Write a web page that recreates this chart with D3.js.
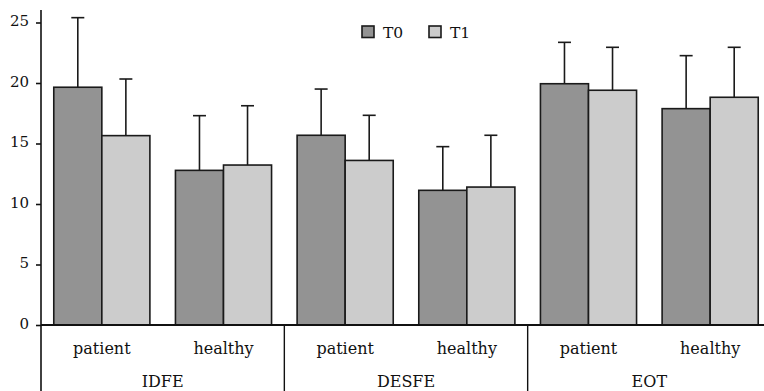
<!DOCTYPE html>
<html>
<head>
<meta charset="utf-8">
<script src="https://cdn.jsdelivr.net/npm/d3@7"></script>
<style>
  body { margin: 0; background: #fff; }
</style>
</head>
<body>
<svg id="chart" width="764" height="391"></svg>
<script>
// data
const groups = ["IDFE", "DESFE", "EOT"];
const subjects = ["patient", "healthy"];
const series = ["T0", "T1"];
const colors = ["#939393", "#cccccc"];

// means, in order IDFE patient/healthy, DESFE..., EOT...
const t0Mean = [19.65, 12.78, 15.68, 11.13, 19.94, 17.88];
const t1Mean = [15.65, 13.22, 13.6, 11.4, 19.4, 18.82];
// upper end of the error bar
const t0Upper = [25.4, 17.3, 19.5, 14.74, 23.36, 22.26];
const t1Upper = [20.33, 18.12, 17.33, 15.68, 22.95, 22.95];
const yTicks = [0, 5, 10, 15, 20, 25];

const serif = "DejaVu Serif";
const svg = d3.select("#chart");
const plotLeft = 41, plotRight = 771, plotTop = 10, base = 325;

let cells = [];
groups.forEach((g, gi) => {
    subjects.forEach((s, si) => {
        cells.push({ id: g + "|" + s, group: g, subject: s, i: gi * 2 + si });
    });
});

const x = d3.scaleBand()
    .domain(cells.map(d => d.id))
    .range([plotLeft, plotRight])
    .paddingInner(0.21)
    .paddingOuter(0.105);

const xs = d3.scaleBand()
    .domain(series)
    .range([0, x.bandwidth()]);

const y = d3.scaleLinear().domain([0, 25]).range([base, 22.5]);

let bars = [];
cells.forEach(c => {
    bars.push({ cell: c, s: "T0", v: t0Mean[c.i], up: t0Upper[c.i], fill: colors[0] });
    bars.push({ cell: c, s: "T1", v: t1Mean[c.i], up: t1Upper[c.i], fill: colors[1] });
});

// error bars first so the bar outline sits on top
let err = svg.append("g").attr("stroke", "#1a1a1a").attr("stroke-width", 1.6);
bars.forEach(b => {
    let cx = x(b.cell.id) + xs(b.s) + xs.bandwidth() / 2;
    err.append("line")
        .attr("x1", cx).attr("x2", cx)
        .attr("y1", y(b.v)).attr("y2", y(b.up));
    err.append("line")
        .attr("x1", cx - 6.5).attr("x2", cx + 6.5)
        .attr("y1", y(b.up)).attr("y2", y(b.up));
});

svg.append("g")
    .selectAll("rect")
    .data(bars)
    .enter()
    .append("rect")
    .attr("x", d => x(d.cell.id) + xs(d.s))
    .attr("y", d => y(d.v))
    .attr("width", xs.bandwidth())
    .attr("height", d => base - y(d.v))
    .attr("fill", d => d.fill)
    .attr("stroke", "#1a1a1a")
    .attr("stroke-width", 1.6);

// y axis
let yAxis = svg.append("g")
    .attr("transform", `translate(${plotLeft},0)`)
    .call(d3.axisLeft(y).tickValues(yTicks).tickSize(5).tickPadding(7));
yAxis.attr("font-family", serif);
yAxis.select(".domain").remove();
yAxis.selectAll(".tick line").attr("stroke", "#111").attr("stroke-width", 1.6);
yAxis.selectAll("text")
    .attr("font-family", serif)
    .attr("font-size", 15)
    .attr("dy", "0.22em")
    .attr("fill", "#111");

svg.append("line")
    .attr("x1", plotLeft).attr("x2", plotLeft)
    .attr("y1", plotTop).attr("y2", 391)
    .attr("stroke", "#111").attr("stroke-width", 1.6);

// baseline
svg.append("line")
    .attr("x1", plotLeft).attr("x2", plotRight)
    .attr("y1", base).attr("y2", base)
    .attr("stroke", "#111").attr("stroke-width", 1.8);

// sub labels
svg.append("g")
    .selectAll("text")
    .data(cells)
    .enter()
    .append("text")
    .attr("x", d => x(d.id) + x.bandwidth() / 2)
    .attr("y", 354)
    .attr("text-anchor", "middle")
    .attr("font-family", serif)
    .attr("font-size", 16)
    .attr("fill", "#111")
    .text(d => d.subject);

// group labels and separators
groups.forEach((g, gi) => {
    let first = x(g + "|" + subjects[0]);
    let last = x(g + "|" + subjects[1]) + x.bandwidth();
    let step = x.step() * x.paddingInner();
    let x0 = first - step / 2, x1 = last + step / 2;
    svg.append("text")
        .attr("x", (x0 + x1) / 2)
        .attr("y", 387)
        .attr("text-anchor", "middle")
        .attr("font-family", serif)
        .attr("font-size", 16)
        .attr("fill", "#111")
        .text(g);
    if (gi > 0) {
        svg.append("line")
            .attr("x1", x0).attr("x2", x0)
            .attr("y1", base).attr("y2", 391)
            .attr("stroke", "#111").attr("stroke-width", 1.4);
    }
});

// legend
let legend = svg.append("g").attr("transform", "translate(362,26)");
series.forEach((s, i) => {
    let lg = legend.append("g").attr("transform", `translate(${i * 67},0)`);
    lg.append("rect")
        .attr("width", 12).attr("height", 11.5)
        .attr("fill", colors[i])
        .attr("stroke", "#1a1a1a").attr("stroke-width", 1.6);
    lg.append("text")
        .attr("x", 21).attr("y", 12)
        .attr("font-family", serif)
        .attr("font-size", 15.5)
        .attr("fill", "#111")
        .text(s);
});
</script>
</body>
</html>
